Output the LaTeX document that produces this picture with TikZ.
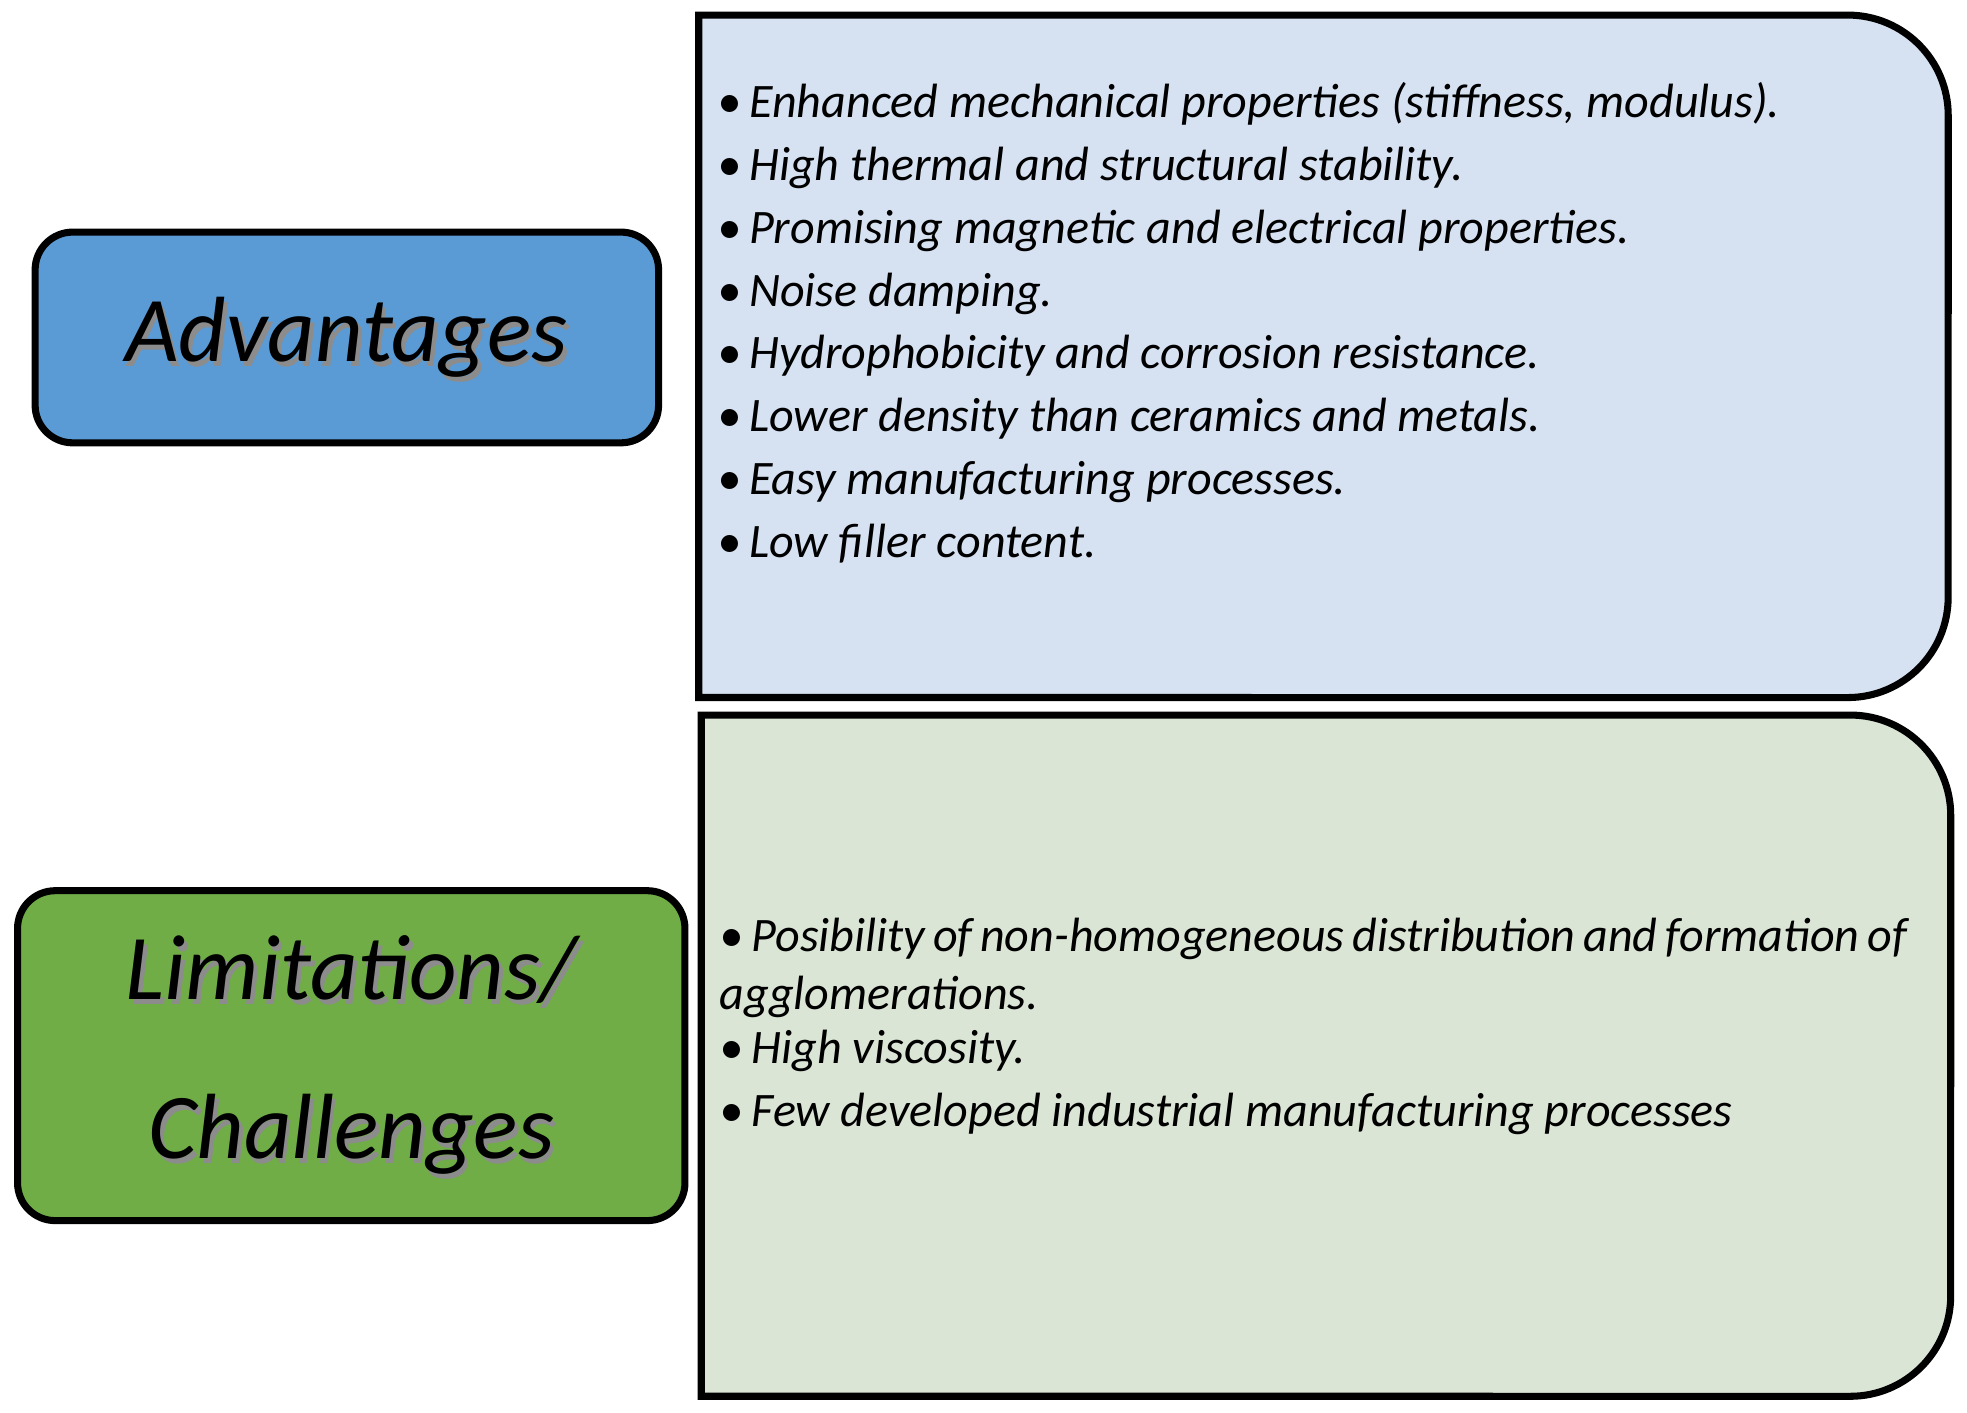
\documentclass[tikz,border=0pt]{standalone}
\usepackage{fontspec}
\setmainfont{Carlito}
\definecolor{advblue}{HTML}{5B9BD5}
\definecolor{limgreen}{HTML}{70AD47}
\definecolor{advpale}{HTML}{D6E2F2}
\definecolor{limpale}{HTML}{DAE5D5}
\begin{document}
\begin{tikzpicture}[x=0.01cm,y=-0.01cm,
    headbox/.style={draw=black,line width=1.6pt,rounded corners=0.3cm},
    listbox/.style={draw=black,line width=1.6pt},
    headtext/.style={font=\fontsize{21}{36}\selectfont\itshape,align=center},
    item/.style={font=\fontsize{10.9}{12}\selectfont\itshape,anchor=base west,inner sep=0pt}]
    \useasboundingbox (0,0) rectangle (1568,1126);
    % left heading boxes
    \draw[headbox,fill=advblue] (28,185) rectangle (525,353);
    \draw[headbox,fill=limgreen] (14,710) rectangle (546,973);
    \node[headtext,text=black!45] at (279,273) {Advantages};
    \node[headtext] (adv) at (276,269) {Advantages};
    \node[headtext,text=black!45] at (283,845) {Limitations/\\Challenges};
    \node[headtext] (lim) at (280,841) {Limitations/\\Challenges};
    % right list boxes, rounded on the right only
    \draw[listbox,fill=advpale] (557,12) -- (1473,12) arc[start angle=90,end angle=0,radius=0.8cm]
      -- (1553,476) arc[start angle=0,end angle=-90,radius=0.8cm] -- (557,556) -- cycle;
    \draw[listbox,fill=limpale] (559,570) -- (1475,570) arc[start angle=90,end angle=0,radius=0.8cm]
      -- (1555,1033) arc[start angle=0,end angle=-90,radius=0.8cm] -- (559,1113) -- cycle;
    % advantages
    \foreach \txt [count=\i] in {Enhanced mechanical properties (stiffness{,} modulus).,
      High thermal and structural stability.,
      Promising magnetic and electrical properties.,
      Noise damping.,
      Hydrophobicity and corrosion resistance.,
      Lower density than ceramics and metals.,
      Easy manufacturing processes.,
      Low filler content.}
      \node[item] (a\i) at (571,{84+50*(\i-1)+10}) {\textbullet\,\txt};
    % limitations
    \node[item,anchor=north west,text width=9.46cm,align=justify,
      font=\fontsize{10.9}{13.2}\selectfont\itshape] (l1) at (573,731)
      {\hyphenpenalty=10000\hangindent=0.19cm\hangafter=1 \textbullet\,Posibility of non-homogeneous distribution and formation of agglomerations.};
    \node[item] (l2) at (573,848) {\textbullet\,High viscosity.};
    \node[item] (l3) at (573,898) {\textbullet\,Few developed industrial manufacturing processes};
\end{tikzpicture}
\end{document}
